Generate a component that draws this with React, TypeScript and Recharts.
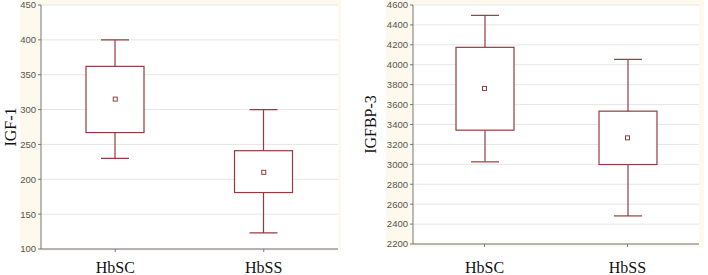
import React from "react";
import {
  ComposedChart,
  Bar,
  Line,
  XAxis,
  YAxis,
  CartesianGrid,
} from "recharts";

const groups = ["HbSC", "HbSS"];

const igfMin = [230, 123];
const igfQ1 = [267, 181];
const igfQ3 = [362, 241];
const igfMax = [400, 300];
const igfMean = [315, 210];
const igfTicks = [100, 150, 200, 250, 300, 350, 400, 450];

const bpMin = [3025, 2482];
const bpQ1 = [3343, 2998];
const bpQ3 = [4175, 3534];
const bpMax = [4496, 4054];
const bpMean = [3762, 3266];
const bpTicks = [2200, 2400, 2600, 2800, 3000, 3200, 3400, 3600, 3800, 4000, 4200, 4400, 4600];

const boxColor = "#923c3f";
const cream = "#fdf9ec";

function buildRows(min: number[], q1: number[], q3: number[], max: number[], mean: number[]) {
  return groups.map((g, i) => ({
    group: g,
    base: min[i],
    lo: q1[i] - min[i],
    box: q3[i] - q1[i],
    hi: max[i] - q3[i],
    mean: mean[i],
  }));
}

const igfRows = buildRows(igfMin, igfQ1, igfQ3, igfMax, igfMean);
const bpRows = buildRows(bpMin, bpQ1, bpQ3, bpMax, bpMean);

const LowWhisker = (p: any) => {
  const cx = p.x + p.width / 2;
  const cap = 14;
  return (
    <g stroke={boxColor} strokeWidth={1.2}>
      <line x1={cx} x2={cx} y1={p.y} y2={p.y + p.height} />
      <line x1={cx - cap} x2={cx + cap} y1={p.y + p.height} y2={p.y + p.height} />
    </g>
  );
};

const HighWhisker = (p: any) => {
  const cx = p.x + p.width / 2;
  const cap = 14;
  return (
    <g stroke={boxColor} strokeWidth={1.2}>
      <line x1={cx} x2={cx} y1={p.y} y2={p.y + p.height} />
      <line x1={cx - cap} x2={cx + cap} y1={p.y} y2={p.y} />
    </g>
  );
};

const BoxShape = (p: any) => (
  <rect x={p.x} y={p.y} width={p.width} height={p.height} fill="#fff" stroke={boxColor} strokeWidth={1.2} />
);

const MeanDot = (p: any) => {
  if (p.cx == null || p.cy == null) return <g key={p.index} />;
  return (
    <rect
      key={p.index}
      x={p.cx - 2}
      y={p.cy - 2}
      width={4}
      height={4}
      fill="#fff"
      stroke={boxColor}
      strokeWidth={1}
    />
  );
};

const tickStyle = {
  fontFamily: "Liberation Sans Narrow, Liberation Sans, Arial",
  fontSize: 9.5,
  fill: "#555",
};

function BoxPanel(props: {
  rows: any[];
  ticks: number[];
  label: string;
  width: number;
  margin: any;
  yWidth: number;
  xHeight: number;
  labelX: number;
  baseline: number;
}) {
  const { rows, ticks, label, width, margin, yWidth, xHeight, labelX, baseline } = props;
  const domain = [ticks[0], ticks[ticks.length - 1]];
  return (
    <ComposedChart width={width} height={275} data={rows} margin={margin} barCategoryGap="30%">
      <CartesianGrid horizontal vertical={false} stroke="#e6e6e6" fill="#fff" />
      <XAxis
        dataKey="group"
        height={xHeight}
        stroke="#777"
        tickSize={3}
        tickLine={{ stroke: "#777" }}
        tick={(t: any) => (
          <text
            x={t.x}
            y={baseline}
            textAnchor="middle"
            fontFamily="Liberation Serif, Times New Roman, serif"
            fontSize={16}
            fill="#111"
          >
            {t.payload.value}
          </text>
        )}
      />
      <XAxis xAxisId="top" dataKey="group" orientation="top" height={0} tick={false} tickLine={false} stroke="#777" />
      <YAxis
        domain={domain}
        ticks={ticks}
        allowDataOverflow
        width={yWidth}
        stroke="#777"
        tickSize={3}
        tickMargin={2}
        tick={tickStyle}
        interval={0}
        label={{
          content: (lp: any) => {
            const vb = lp.viewBox || {};
            const cy = (vb.y || 0) + (vb.height || 0) / 2;
            return (
              <text
                x={labelX}
                y={cy}
                transform={`rotate(-90 ${labelX} ${cy})`}
                textAnchor="middle"
                dominantBaseline="central"
                fontFamily="Liberation Serif, Times New Roman, serif"
                fontSize={16}
                fill="#111"
              >
                {label}
              </text>
            );
          },
        }}
      />
      <YAxis yAxisId="right" orientation="right" width={0} domain={domain} allowDataOverflow tick={false} tickLine={false} stroke="#777" />
      <Bar dataKey="base" stackId="s" fill="transparent" barSize={58} isAnimationActive={false} />
      <Bar dataKey="lo" stackId="s" shape={LowWhisker} barSize={58} isAnimationActive={false} />
      <Bar dataKey="box" stackId="s" shape={BoxShape} barSize={58} isAnimationActive={false} />
      <Bar dataKey="hi" stackId="s" shape={HighWhisker} barSize={58} isAnimationActive={false} />
      <Line dataKey="mean" stroke="none" dot={MeanDot} activeDot={false} isAnimationActive={false} />
    </ComposedChart>
  );
}

export default function App() {
  return (
    <div style={{ position: "absolute", left: 0, top: 0, width: 708, height: 275, background: "#fff" }}>
      <div style={{ position: "absolute", left: 20, top: 0, width: 321, height: 251, background: cream }} />
      <div style={{ position: "absolute", left: 386, top: 0, width: 318, height: 247, background: cream }} />
      <div style={{ position: "absolute", left: 0, top: 0 }}>
        <BoxPanel
          rows={igfRows}
          ticks={igfTicks}
          label="IGF-1"
          width={354}
          margin={{ top: 5, right: 16, left: 0, bottom: 0 }}
          yWidth={41}
          xHeight={26}
          labelX={10}
          baseline={273}
        />
      </div>
      <div style={{ position: "absolute", left: 354, top: 0 }}>
        <BoxPanel
          rows={bpRows}
          ticks={bpTicks}
          label="IGFBP-3"
          width={354}
          margin={{ top: 5, right: 9, left: 0, bottom: 0 }}
          yWidth={59}
          xHeight={31}
          labelX={16}
          baseline={273}
        />
      </div>
    </div>
  );
}
